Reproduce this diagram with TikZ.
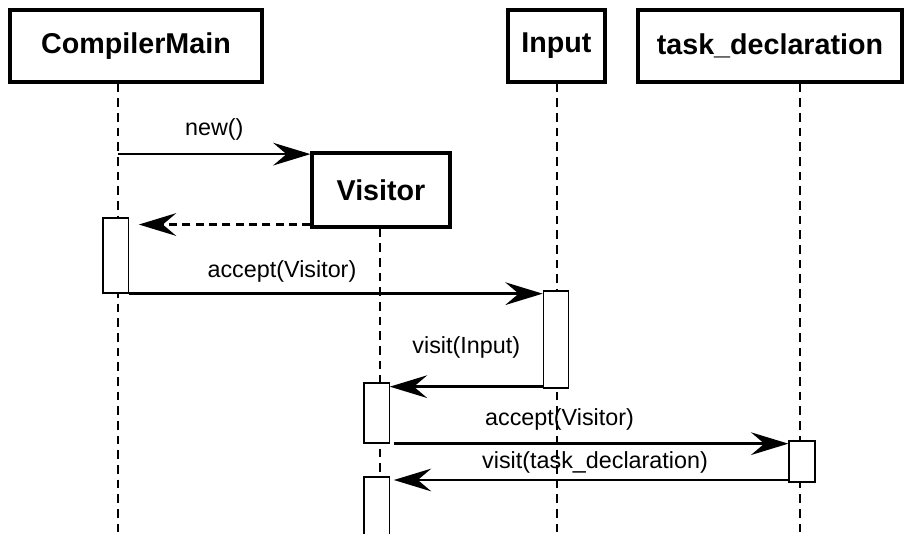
\documentclass[tikz,border=0pt]{standalone}
\usepackage{fontspec}
\setmainfont{Liberation Sans}
\usetikzlibrary{arrows.meta}

\tikzset{
  object/.style={draw, line width=2.3pt, fill=white, inner sep=0pt,
    font=\fontsize{21.5}{25}\selectfont\bfseries},
  activation/.style={draw, line width=1pt, fill=white, inner sep=0pt,
    minimum width=19pt},
  lifeline/.style={line width=2pt, dash pattern=on 6.5pt off 4.5pt},
  msg/.style={line width=2pt, -{Stealth[length=28pt,width=17pt,inset=10pt]}},
  reply/.style={msg, dash pattern=on 6pt off 4pt},
  msglabel/.style={font=\fontsize{17.5}{21}\selectfont}
}

\begin{document}
\begin{tikzpicture}[x=0.75pt,y=-0.75pt]
  \useasboundingbox (0,0) rectangle (904,534);

  % objects
  \node[object, minimum width=189pt, minimum height=54pt] (cm) at (136,46) {CompilerMain};
  \node[object, minimum width=72.75pt, minimum height=54pt] (in) at (556.5,46) {Input};
  \node[object, minimum width=198pt, minimum height=54pt] (td) at (770,46) {task\_declaration};
  \node[object, minimum width=103.5pt, minimum height=55.5pt] (vis) at (381,190) {Visitor};

  % lifelines
  \coordinate (cmEnd) at (118,540);
  \coordinate (inEnd) at (557,540);
  \coordinate (tdEnd) at (800,540);
  \coordinate (visEnd) at (380,540);
  \draw[lifeline] (cm.south -| cmEnd) -- (cmEnd);
  \draw[lifeline] (in.south -| inEnd) -- (inEnd);
  \draw[lifeline] (td.south -| tdEnd) -- (tdEnd);
  \draw[lifeline] (vis.south -| visEnd) -- (visEnd);

  % activations
  \node[activation, minimum height=56.25pt] (cmAct) at (115.5,255.5) {};
  \node[activation, minimum height=72.75pt] (inAct) at (556,339.5) {};
  \node[activation, minimum height=45pt] (visAct) at (376.5,413) {};
  \node[activation, minimum height=49.5pt] (visAct2) at (376.5,510) {};
  \node[activation, minimum height=30.75pt, minimum width=19.5pt] (tdAct) at (802,461.5) {};
  \coordinate (replyEnd) at ([xshift=7.5pt]cmAct.east);
  \coordinate (newEnd) at ([yshift=-2pt]vis.north west);

  % messages
  \draw[msg] (cmEnd |- newEnd) -- node[msglabel, above=6pt] (lNew) {new()} (newEnd);
  \draw[reply] ([yshift=3pt]vis.south west) -- ([yshift=3pt]vis.south west -| replyEnd);
  \draw[msg] (cmAct.south east) -- node[msglabel, above=4pt, pos=0.37] (lAccept) {accept(Visitor)} (cmAct.south east -| inAct.west);
  \draw[msg] ([yshift=1.5pt]inAct.south west) -- node[msglabel, above=17pt] (lVisitIn) {visit(Input)} ([yshift=1.5pt]inAct.south west -| visAct.east);
  \draw[msg] ([xshift=3pt]visAct.south east) -- node[msglabel, above=6pt, pos=0.42] (lAccept2) {accept(Visitor)} (visAct.south east -| tdAct.west);
  \draw[msg] ([yshift=2pt]tdAct.south west) -- node[msglabel, above=1pt, pos=0.49] (lVisitTd) {visit(task\_declaration)} ([xshift=3pt,yshift=2pt]tdAct.south west -| visAct2.east);
\end{tikzpicture}
\end{document}
